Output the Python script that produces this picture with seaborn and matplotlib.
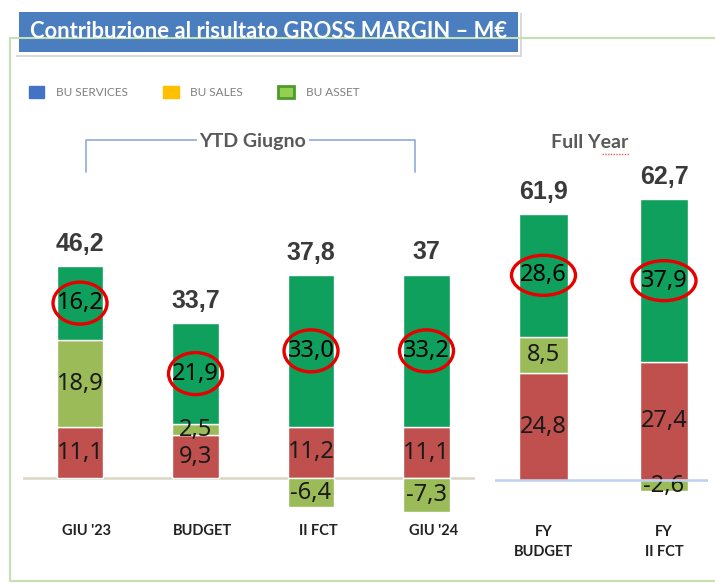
import matplotlib
matplotlib.use("Agg")
import matplotlib.pyplot as plt
from matplotlib.lines import Line2D
from matplotlib.patches import Rectangle, Patch, Ellipse
import pandas as pd
import seaborn as sns

# YTD Giugno values (M€)
ytd_labels = ["GIU '23", "BUDGET", "II FCT", "GIU '24"]
ytd_red = [11.1, 9.3, 11.2, 11.1]
ytd_light = [18.9, 2.5, -6.4, -7.3]
ytd_green = [16.2, 21.9, 33.0, 33.2]
ytd_totals = ["46,2", "33,7", "37,8", "37"]

# Full Year values (M€)
fy_labels = ["FY\nBUDGET", "FY\nII FCT"]
fy_red = [24.8, 27.4]
fy_light = [8.5, -2.6]
fy_green = [28.6, 37.9]
fy_totals = ["61,9", "62,7"]

legend_names = ["BU SERVICES", "BU SALES", "BU ASSET"]
legend_colors = ["#4472C4", "#FFC000", "#92D050"]

RED = "#C0504D"
LIGHT = "#9BBB59"
GREEN = "#0FA05E"
CIRCLE = "#E60000"

W, H = 715, 583


def fx(x):
    return x / W


def fy(y):
    return 1 - y / H


def fmt(v):
    return f"{v:.1f}".replace(".", ",")


sns.set_theme(style="white")
plt.rcParams["font.family"] = ["Lato", "DejaVu Sans"]
NARROW = ["Noto Sans", "DejaVu Sans"]

fig = plt.figure(figsize=(7.15, 5.83), dpi=100)


def draw_panel(ax, labels, red, light, green, totals, label_y, base_color, base_z,
               px_unit, px_cat, ring_w, ring_h):
    df = pd.DataFrame({"cat": labels, "red": red, "light": light, "green": green})
    light_bottom = [r if l > 0 else 0 for r, l in zip(red, light)]
    green_bottom = [r + max(l, 0) for r, l in zip(red, light)]

    sns.barplot(data=df, x="cat", y="red", color=RED, saturation=1, width=0.4,
                errorbar=None, ax=ax)
    sns.barplot(data=df, x="cat", y="light", color=LIGHT, saturation=1, width=0.4,
                errorbar=None, bottom=light_bottom, ax=ax)
    sns.barplot(data=df, x="cat", y="green", color=GREEN, saturation=1, width=0.4,
                errorbar=None, bottom=green_bottom, ax=ax)

    ax.axhline(0, color=base_color, lw=1.8, zorder=base_z)

    seg = dict(ha="center", va="center", fontsize=17, family=NARROW,
               fontstretch="extra-condensed")
    for i in range(len(labels)):
        ax.text(i, red[i] / 2, fmt(red[i]), color="#1a1a1a", **seg)
        ax.text(i, light_bottom[i] + light[i] / 2, fmt(light[i]), color="#1a1a1a", **seg)
        mid = green_bottom[i] + green[i] / 2
        ax.text(i, mid, fmt(green[i]), color="black", **seg)
        ax.add_patch(Ellipse((i, mid), ring_w / px_cat, ring_h / px_unit, fc="none",
                             ec=CIRCLE, lw=2.4, zorder=6, clip_on=False))
        top = green_bottom[i] + green[i]
        ax.annotate(totals[i], (i, top), xytext=(0, 11), textcoords="offset points",
                    ha="center", va="baseline", fontsize=18, fontweight="bold",
                    color="#3a3a3a", family=["Liberation Sans", "DejaVu Sans"])
        ax.text(i + 0.06 * (len(labels) > 2), label_y, labels[i], ha="center", va="center",
                fontsize=10.5, fontweight="bold", color="#222222", linespacing=1.5)

    ax.set_xlabel("")
    ax.set_ylabel("")
    ax.axis("off")


# frame lines
frame_color = "#C5E0B3"
fig.add_artist(Line2D([fx(10), fx(10)], [fy(38), fy(581)], color=frame_color, lw=1.5,
                      transform=fig.transFigure))
fig.add_artist(Line2D([fx(10), fx(715)], [fy(581), fy(581)], color=frame_color, lw=1.5,
                      transform=fig.transFigure))
fig.add_artist(Line2D([fx(10), fx(715)], [fy(38), fy(38)], color=frame_color, lw=1.5,
                      transform=fig.transFigure))

# title box with shadow
fig.add_artist(Rectangle((fx(16), fy(57)), (522 - 16) / W, 44 / H, transform=fig.transFigure,
                         fc="#D0D0D0", ec="none", alpha=0.8))
fig.add_artist(Rectangle((fx(14), fy(55)), (520 - 14) / W, 47 / H, transform=fig.transFigure,
                         fc="white", ec="none"))
fig.add_artist(Rectangle((fx(19), fy(52)), (518 - 19) / W, 40 / H, transform=fig.transFigure,
                         fc="#4A7EBF", ec="none"))
fig.text(fx(268), fy(32), "Contribuzione al risultato GROSS MARGIN – M€", ha="center",
         va="center", color="white", fontsize=15.8, fontweight="bold")

# legend
handles = [Patch(fc=c, ec=c, label=n) for c, n in zip(legend_colors, legend_names)]
handles[2] = Patch(fc="#92D050", ec="#4E9A2E", lw=2, label=legend_names[2])
fig.legend(handles=handles, loc="center left", bbox_to_anchor=(fx(24), fy(92)), ncol=3,
           frameon=False, fontsize=8.5, labelcolor="#7F7F7F", handlelength=1.3,
           handleheight=1.3, handletextpad=1.0, columnspacing=3.0, borderaxespad=0)

# YTD bracket
fig.add_artist(Line2D([fx(86), fx(86), fx(415), fx(415)], [fy(172), fy(140), fy(140), fy(172)],
                      color="#8FAADC", lw=1.2, transform=fig.transFigure))
fig.text(fx(253), fy(141), "YTD Giugno", ha="center", va="center", color="#595959",
         fontsize=14, fontweight="bold",
         bbox=dict(boxstyle="square,pad=0.15", fc="white", ec="none"))
fig.text(fx(590), fy(143), "Full Year", ha="center", va="center", color="#595959",
         fontsize=14, fontweight="bold")
fig.add_artist(Line2D([fx(602), fx(629)], [fy(154), fy(154)], color="#E06060", lw=1,
                      ls=(0, (1, 1)), transform=fig.transFigure))

# panels
ax1 = fig.add_axes([fx(23), fy(570), (475 - 23) / W, 420 / H])
scale1 = 4.59
draw_panel(ax1, ytd_labels, ytd_red, ytd_light, ytd_green, ytd_totals,
           -(531 - 478) / scale1, "#DAD6C3", 0, scale1, 115.5, 54, 42)
ax1.set_xlim(-0.494, 3.42)
ax1.set_ylim(-(570 - 478) / scale1, (478 - 150) / scale1)

ax2 = fig.add_axes([fx(495), fy(570), (708 - 495) / W, 420 / H])
scale2 = 4.3
draw_panel(ax2, fy_labels, fy_red, fy_light, fy_green, fy_totals,
           -(542 - 480) / scale2, "#BDD0EE", 5, scale2, 120.5, 64, 40)
ax2.set_xlim(-0.4025, 1.365)
ax2.set_ylim(-(570 - 480) / scale2, (480 - 150) / scale2)

fig.savefig("out.png", dpi=100)
